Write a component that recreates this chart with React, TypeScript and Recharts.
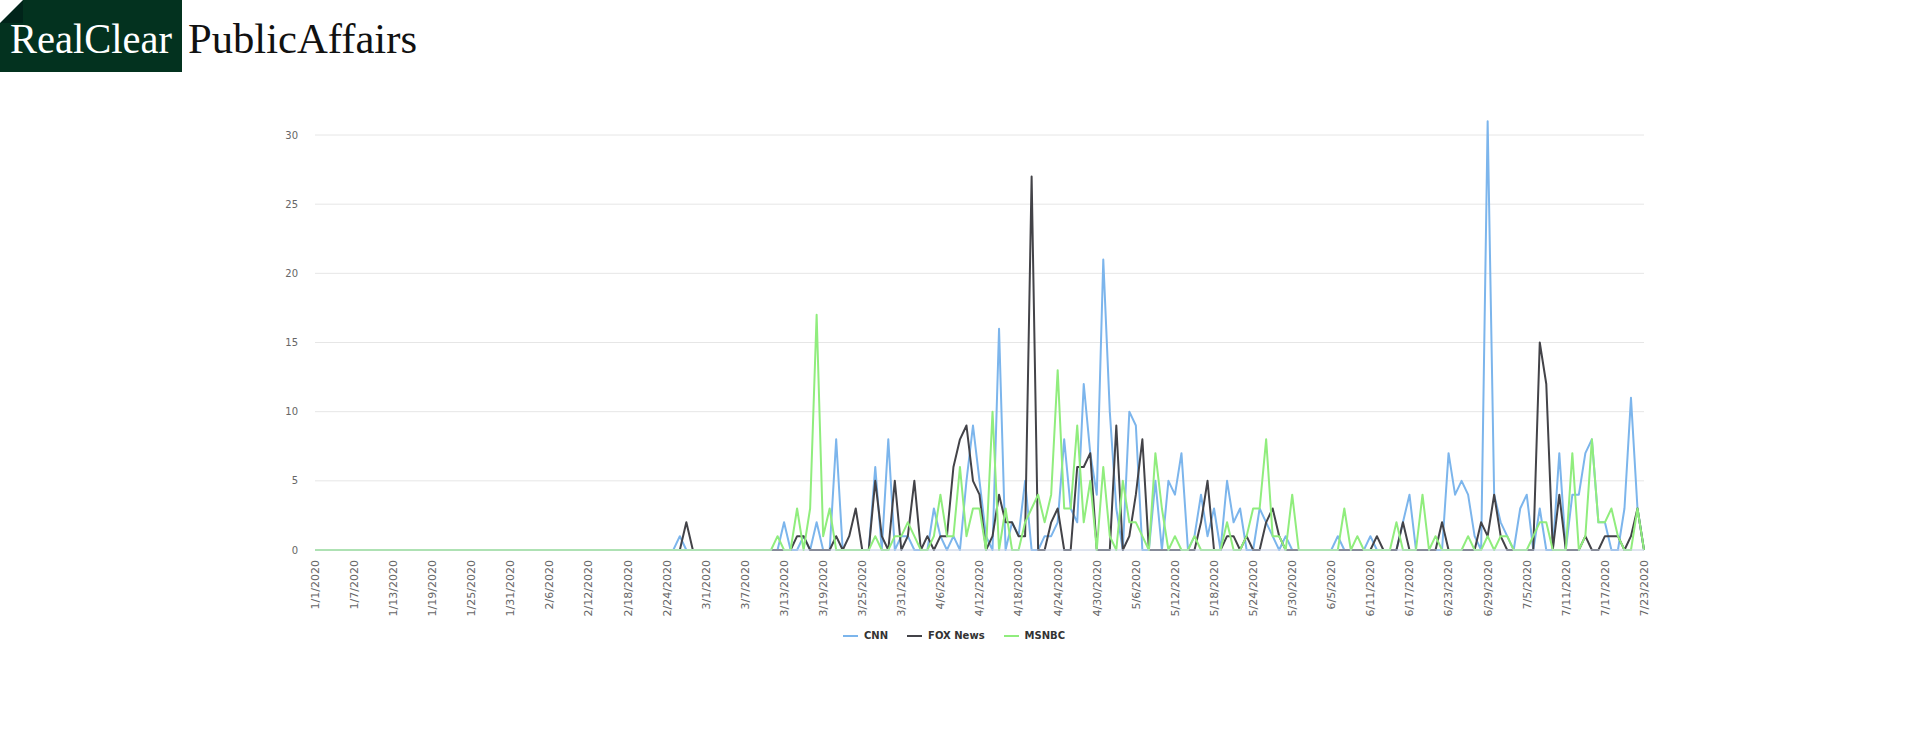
import { LineChart, Line, XAxis, YAxis, CartesianGrid } from 'recharts';

// daily mentions, 1/1/2020 - 7/23/2020
const monthDays = [31, 29, 31, 30, 31, 30, 23];
const dates: string[] = [];
monthDays.forEach((n, m) => {
  for (let d = 1; d <= n; d++) dates.push(`${m + 1}/${d}/2020`);
});

const cnn = [
  // Jan
  0, 0, 0, 0, 0, 0, 0, 0, 0, 0, 0, 0, 0, 0, 0, 0, 0, 0, 0, 0, 0, 0, 0, 0, 0, 0, 0, 0, 0, 0, 0,
  // Feb
  0, 0, 0, 0, 0, 0, 0, 0, 0, 0, 0, 0, 0, 0, 0, 0, 0, 0, 0, 0, 0, 0, 0, 0, 0, 1, 0, 0, 0,
  // Mar
  0, 0, 0, 0, 0, 0, 0, 0, 0, 0, 0, 0, 2, 0, 0, 1, 0, 2, 0, 0, 8, 0, 0, 0, 0, 0, 6, 0, 8, 0, 1,
  // Apr
  1, 0, 0, 0, 3, 1, 0, 1, 0, 5, 9, 5, 1, 0, 16, 0, 2, 1, 5, 0, 0, 1, 1, 2, 8, 3, 2, 12, 7, 4,
  // May
  21, 10, 3, 0, 10, 9, 0, 0, 5, 0, 5, 4, 7, 0, 1, 4, 1, 3, 0, 5, 2, 3, 0, 0, 3, 2, 1, 0, 1, 0, 0,
  // Jun
  0, 0, 0, 0, 0, 1, 0, 0, 0, 0, 1, 0, 0, 0, 0, 2, 4, 0, 0, 0, 0, 0, 7, 4, 5, 4, 1, 0, 31, 4,
  // Jul
  2, 1, 0, 3, 4, 0, 3, 0, 0, 7, 0, 4, 4, 7, 8, 2, 2, 0, 0, 3, 11, 3, 0,
];

const fox = [
  // Jan
  0, 0, 0, 0, 0, 0, 0, 0, 0, 0, 0, 0, 0, 0, 0, 0, 0, 0, 0, 0, 0, 0, 0, 0, 0, 0, 0, 0, 0, 0, 0,
  // Feb
  0, 0, 0, 0, 0, 0, 0, 0, 0, 0, 0, 0, 0, 0, 0, 0, 0, 0, 0, 0, 0, 0, 0, 0, 0, 0, 2, 0, 0,
  // Mar
  0, 0, 0, 0, 0, 0, 0, 0, 0, 0, 0, 0, 0, 0, 1, 1, 0, 0, 0, 0, 1, 0, 1, 3, 0, 0, 5, 1, 0, 5, 0,
  // Apr
  1, 5, 0, 1, 0, 1, 1, 6, 8, 9, 5, 4, 0, 1, 4, 2, 2, 1, 1, 27, 0, 0, 2, 3, 0, 0, 6, 6, 7, 0,
  // May
  0, 0, 9, 0, 1, 4, 8, 0, 0, 0, 0, 0, 0, 0, 0, 2, 5, 0, 0, 1, 1, 0, 1, 0, 0, 2, 3, 1, 0, 0, 0,
  // Jun
  0, 0, 0, 0, 0, 0, 0, 0, 0, 0, 0, 1, 0, 0, 0, 2, 0, 0, 0, 0, 0, 2, 0, 0, 0, 0, 0, 2, 1, 4,
  // Jul
  1, 0, 0, 0, 0, 0, 15, 12, 0, 4, 0, 0, 0, 1, 0, 0, 1, 1, 1, 0, 1, 3, 0,
];

const msnbc = [
  // Jan
  0, 0, 0, 0, 0, 0, 0, 0, 0, 0, 0, 0, 0, 0, 0, 0, 0, 0, 0, 0, 0, 0, 0, 0, 0, 0, 0, 0, 0, 0, 0,
  // Feb
  0, 0, 0, 0, 0, 0, 0, 0, 0, 0, 0, 0, 0, 0, 0, 0, 0, 0, 0, 0, 0, 0, 0, 0, 0, 0, 0, 0, 0,
  // Mar
  0, 0, 0, 0, 0, 0, 0, 0, 0, 0, 0, 1, 0, 0, 3, 0, 3, 17, 1, 3, 0, 0, 0, 0, 0, 0, 1, 0, 0, 1, 1,
  // Apr
  2, 1, 0, 0, 1, 4, 1, 1, 6, 1, 3, 3, 0, 10, 0, 3, 0, 0, 2, 3, 4, 2, 4, 13, 3, 3, 9, 2, 5, 0,
  // May
  6, 1, 0, 5, 2, 2, 1, 0, 7, 3, 0, 1, 0, 0, 1, 0, 0, 0, 0, 2, 0, 0, 1, 3, 3, 8, 1, 1, 0, 4, 0,
  // Jun
  0, 0, 0, 0, 0, 0, 3, 0, 1, 0, 0, 0, 0, 0, 2, 0, 0, 0, 4, 0, 1, 0, 0, 0, 0, 1, 0, 0, 1, 0,
  // Jul
  1, 1, 0, 0, 0, 1, 2, 2, 0, 0, 0, 7, 0, 1, 8, 2, 2, 3, 1, 0, 0, 3, 0,
];

const tickDates = [
  '1/1/2020', '1/7/2020', '1/13/2020', '1/19/2020', '1/25/2020', '1/31/2020',
  '2/6/2020', '2/12/2020', '2/18/2020', '2/24/2020', '3/1/2020', '3/7/2020',
  '3/13/2020', '3/19/2020', '3/25/2020', '3/31/2020', '4/6/2020', '4/12/2020',
  '4/18/2020', '4/24/2020', '4/30/2020', '5/6/2020', '5/12/2020', '5/18/2020',
  '5/24/2020', '5/30/2020', '6/5/2020', '6/11/2020', '6/17/2020', '6/23/2020',
  '6/29/2020', '7/5/2020', '7/11/2020', '7/17/2020', '7/23/2020',
];
const yTicks = [0, 5, 10, 15, 20, 25, 30];

const series = [
  { key: 'CNN', color: '#7cb5ec' },
  { key: 'FOX News', color: '#434348' },
  { key: 'MSNBC', color: '#90ed7d' },
];

const data = dates.map((date, i) => ({
  date,
  CNN: cnn[i],
  'FOX News': fox[i],
  MSNBC: msnbc[i],
}));

const FONT = '"DejaVu Sans", Verdana, sans-serif';

// plot keeps 30 at y=135 and 0 at y=550; the extra headroom lets the 31 peak poke above the top line
const Y_MAX = 32;
const PLOT_BOTTOM = 550;
const PX_PER_UNIT = 415 / 30;
const PLOT_TOP = PLOT_BOTTOM - Y_MAX * PX_PER_UNIT;
const gridRows = yTicks.map((v) => PLOT_BOTTOM - v * PX_PER_UNIT);

const DateTick = ({ x, y, payload }: any) => (
  <g transform={`translate(${x},${y})`}>
    <text transform="rotate(-90)" textAnchor="end" dy="0.35em" fill="#666666" fontSize={11} fontFamily={FONT}>
      {payload.value}
    </text>
  </g>
);

const Logo = () => (
  <svg width={430} height={72} style={{ position: 'absolute', left: 0, top: 0 }}>
    <rect x={0} y={0} width={182} height={72} fill="#03321f" />
    <polygon points="23,0 23,23 0,23" fill="#01241a" />
    <polygon points="0,0 23,0 0,23" fill="#ffffff" />
    <text x={10} y={53} fill="#ffffff" fontSize={42} fontFamily='"Liberation Serif", serif' textLength={162} lengthAdjust="spacingAndGlyphs">
      RealClear
    </text>
    <text x={188} y={53} fill="#111111" fontSize={42} fontFamily='"Liberation Serif", serif' textLength={229} lengthAdjust="spacingAndGlyphs">
      PublicAffairs
    </text>
  </svg>
);

export default function App() {
  return (
    <div style={{ position: 'absolute', left: 0, top: 0, width: 1920, height: 740, background: '#ffffff' }}>
      <Logo />
      <LineChart
        width={1920}
        height={740}
        data={data}
        margin={{ top: PLOT_TOP, right: 276, bottom: 740 - PLOT_BOTTOM - 70, left: 275 }}
      >
        <CartesianGrid vertical={false} stroke="#e6e6e6" horizontalPoints={gridRows} />
        <XAxis
          dataKey="date"
          ticks={tickDates}
          interval={0}
          tick={<DateTick />}
          tickLine={false}
          tickSize={0}
          tickMargin={10}
          axisLine={{ stroke: '#ccd6eb' }}
          height={70}
        />
        <YAxis
          width={40}
          domain={[0, Y_MAX]}
          ticks={yTicks}
          axisLine={false}
          tickLine={false}
          tickSize={0}
          tickMargin={17}
          tick={{ fill: '#666666', fontSize: 10, fontFamily: FONT }}
        />
        {series.map((s) => (
          <Line
            key={s.key}
            type="linear"
            dataKey={s.key}
            name={s.key}
            stroke={s.color}
            strokeWidth={2}
            strokeLinejoin="round"
            dot={false}
            activeDot={false}
            isAnimationActive={false}
          />
        ))}
      </LineChart>
      <div
        style={{
          position: 'absolute',
          left: 843,
          top: 630,
          display: 'flex',
          gap: 19,
          alignItems: 'center',
          fontFamily: FONT,
          fontSize: 10,
          fontWeight: 'bold',
          color: '#333333',
        }}
      >
        {series.map((s) => (
          <div key={s.key} style={{ display: 'flex', alignItems: 'center', gap: 6 }}>
            <span style={{ display: 'inline-block', width: 15, height: 2, background: s.color }} />
            <span>{s.key}</span>
          </div>
        ))}
      </div>
    </div>
  );
}
